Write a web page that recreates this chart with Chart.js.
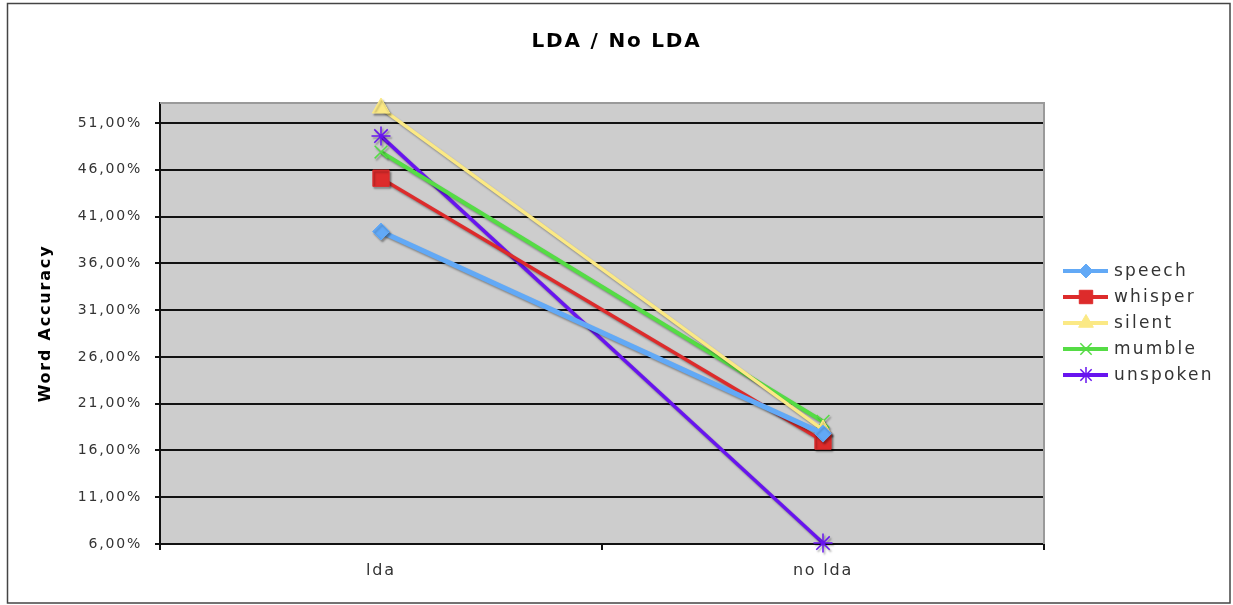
<!DOCTYPE html>
<html>
<head>
<meta charset="utf-8">
<script src="https://cdn.jsdelivr.net/npm/chart.js@4/dist/chart.umd.min.js"></script>
<style>
  html, body { margin: 0; padding: 0; background: #fff; }
  #c { display: block; }
</style>
</head>
<body>
<canvas id="c" width="1233" height="605"></canvas>
<script>
// Word accuracy with and without LDA, per speaking mode
const categories = ['lda', 'no lda'];
const seriesNames = ['speech', 'whisper', 'silent', 'mumble', 'unspoken'];
const speech   = [39.4, 17.8];
const whisper  = [45.1, 17.0];
const silent   = [52.6, 18.2];
const mumble   = [47.9, 19.1];
const unspoken = [49.6, 6.1];
const yTicks = [6, 11, 16, 21, 26, 31, 36, 41, 46, 51];
const yMin = 6;
const yMax = 53.14;

const seriesValues = [speech, whisper, silent, mumble, unspoken];

const looks = [
  { color: '#62a9f6', width: 5,   point: 'rectRot',  r: 8.5,  lr: 7,   bw: 1 },
  { color: '#dd2b2b', width: 3.5, point: 'rect',     r: 11.5, lr: 9.5, bw: 1 },
  { color: '#fbe985', width: 3.5, point: 'triangle', r: 10,   lr: 8.5, bw: 1 },
  { color: '#55dc45', width: 4,   point: 'crossRot', r: 9,    lr: 8,   bw: 1.5 },
  { color: '#6814ef', width: 3.5, point: 'star',     r: 9.5,  lr: 8,   bw: 1.5 }
];

const SPACING = '1.8px';
Chart.defaults.font.family = "'DejaVu Sans', Verdana, sans-serif";

const pct = v => Number(v).toFixed(2).replace('.', ',') + '%';

// wide letter spacing for every piece of text
const spacingPlugin = {
  id: 'spacing',
  beforeUpdate(chart) { chart.ctx.letterSpacing = SPACING; },
  beforeDraw(chart) { chart.ctx.letterSpacing = SPACING; }
};

// white page, outer frame and grey plot background
const backdropPlugin = {
  id: 'backdrop',
  beforeDraw(chart) {
    const { ctx, chartArea: a } = chart;
    ctx.save();
    ctx.fillStyle = '#ffffff';
    ctx.fillRect(0, 0, chart.width, chart.height);
    ctx.strokeStyle = '#444';
    ctx.lineWidth = 1.5;
    ctx.strokeRect(7.5, 3.5, 1222.5, 599.5);
    ctx.fillStyle = '#cdcdcd';
    ctx.fillRect(a.left, a.top, a.right - a.left, a.bottom - a.top);
    ctx.restore();
  },
  beforeDatasetsDraw(chart) {
    const { ctx, chartArea: a } = chart;
    ctx.save();
    ctx.strokeStyle = '#9a9a9a';
    ctx.lineWidth = 2;
    ctx.beginPath();
    ctx.moveTo(a.left, a.top);
    ctx.lineTo(a.right, a.top);
    ctx.lineTo(a.right, a.bottom);
    ctx.stroke();
    ctx.restore();
    // soft drop shadow under the series lines
    ctx.save();
    ctx.shadowColor = 'rgba(0,0,0,0.35)';
    ctx.shadowOffsetX = 1.5;
    ctx.shadowOffsetY = 2;
    ctx.shadowBlur = 2;
  },
  afterDatasetsDraw(chart) {
    chart.ctx.restore();
  }
};

// legend on the right: line sample with marker, then the series name
const legendPlugin = {
  id: 'sideLegend',
  afterDraw(chart) {
    const ctx = chart.ctx;
    ctx.save();
    chart.data.datasets.forEach((ds, i) => {
      const lk = looks[i];
      const y = 271 + i * 26;
      ctx.strokeStyle = lk.color;
      ctx.lineWidth = 4;
      ctx.beginPath();
      ctx.moveTo(1063, y);
      ctx.lineTo(1108, y);
      ctx.stroke();
      ctx.fillStyle = lk.color;
      ctx.strokeStyle = lk.color;
      ctx.lineWidth = lk.bw;
      Chart.helpers.drawPoint(ctx, { pointStyle: lk.point, rotation: 0, radius: lk.lr, borderWidth: lk.bw }, 1086, y);
      ctx.letterSpacing = '2.2px';
      ctx.fillStyle = '#333';
      ctx.font = "17px 'DejaVu Sans'";
      ctx.textAlign = 'left';
      ctx.textBaseline = 'middle';
      ctx.fillText(ds.label, 1114, y + 1);
    });
    ctx.restore();
  }
};

const datasets = seriesNames.map((name, i) => ({
  label: name,
  data: seriesValues[i],
  borderColor: looks[i].color,
  backgroundColor: looks[i].color,
  borderWidth: looks[i].width,
  pointStyle: looks[i].point,
  pointRadius: looks[i].r,
  pointHoverRadius: looks[i].r,
  pointBorderWidth: looks[i].bw,
  pointBackgroundColor: looks[i].color,
  pointBorderColor: looks[i].color,
  tension: 0,
  clip: false,
  yAxisID: 'y'
}));

new Chart(document.getElementById('c'), {
  type: 'line',
  data: { labels: categories, datasets },
  plugins: [spacingPlugin, backdropPlugin, legendPlugin],
  options: {
    responsive: false,
    animation: false,
    layout: { padding: 0 },
    plugins: {
      legend: { display: false },
      tooltip: { enabled: false },
      title: {
        display: true,
        text: 'LDA / No LDA',
        color: '#000',
        font: { size: 20, weight: 'bold' },
        padding: { top: 30, bottom: 49 }
      }
    },
    scales: {
      x: {
        offset: true,
        grid: { drawOnChartArea: false, drawTicks: true, tickLength: 6, color: '#111', lineWidth: 2, offset: true },
        border: { color: '#111', width: 2 },
        ticks: { color: '#333', font: { size: 16 }, padding: 11 },
        afterFit(s) { s.height = 61; }
      },
      y: {
        min: yMin,
        max: yMax,
        afterBuildTicks(s) { s.ticks = yTicks.map(v => ({ value: v })); },
        grid: { color: '#111', lineWidth: 2, drawTicks: true, tickLength: 5 },
        border: { color: '#111', width: 2 },
        ticks: { color: '#333', font: { size: 14 }, padding: 13, callback: v => pct(v) },
        title: {
          display: true,
          text: 'Word Accuracy',
          color: '#000',
          font: { size: 16, weight: 'bold' },
          padding: { top: 36, bottom: 0 }
        },
        afterFit(s) { s.width = 160; }
      },
      // empty right-hand strip that holds the legend
      side: {
        type: 'linear',
        position: 'right',
        display: true,
        grid: { display: false, drawTicks: false },
        border: { display: false },
        ticks: { display: false },
        afterFit(s) { s.width = 189; }
      }
    }
  }
});
</script>
</body>
</html>
